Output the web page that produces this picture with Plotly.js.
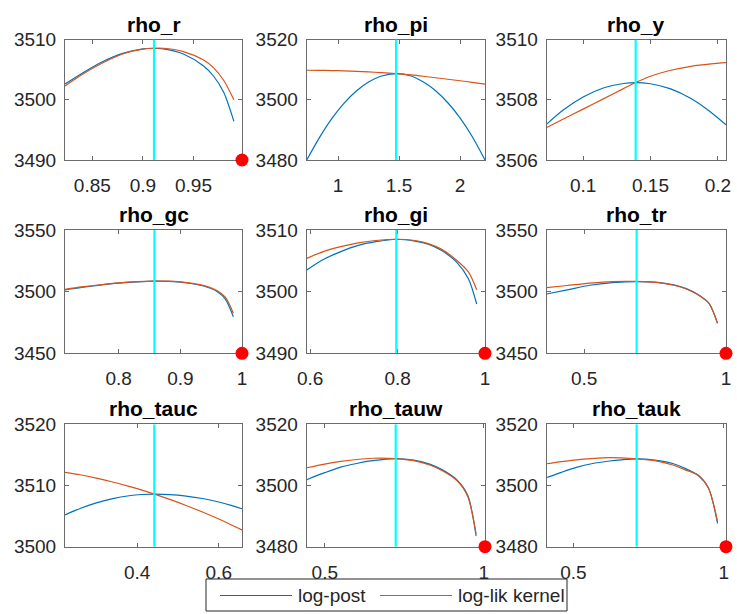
<!DOCTYPE html>
<html>
<head>
<meta charset="utf-8">
<script src="https://cdn.plot.ly/plotly-3.0.1.min.js"></script>
<style>html,body{margin:0;padding:0;background:#fff;}#chart{width:737px;height:614px;}</style>
</head>
<body>
<div id="chart"></div>
<script>
// ---------- data ----------
var panelTitles = ['rho_r','rho_pi','rho_y','rho_gc','rho_gi','rho_tr','rho_tauc','rho_tauw','rho_tauk'];
var seriesNames = ['log-post','log-lik kernel'];

var x_rho_r = [0.823,0.84,0.86,0.88,0.90,0.911,0.92,0.94,0.96,0.97,0.98,0.99];
var post_rho_r = [3502.6,3504.4,3506.3,3507.7,3508.45,3508.55,3508.45,3507.6,3505.6,3503.9,3501.2,3496.4];
var lik_rho_r  = [3502.3,3504.2,3506.1,3507.6,3508.4,3508.55,3508.55,3508.0,3506.6,3505.3,3503.2,3500.0];

var x_rho_pi = [0.743,0.85,0.95,1.05,1.15,1.25,1.35,1.476,1.6,1.7,1.8,1.9,2.0,2.1,2.205];
var post_rho_pi = [3480.0,3487.6,3493.8,3498.9,3502.9,3505.9,3507.8,3508.7,3507.9,3505.9,3503.0,3499.0,3494.0,3487.8,3480.0];
var lik_rho_pi  = [3509.8,3509.75,3509.7,3509.6,3509.45,3509.25,3509.0,3508.7,3508.25,3507.8,3507.3,3506.8,3506.3,3505.8,3505.2];

var x_rho_y = [0.073,0.085,0.1,0.115,0.13,0.139,0.15,0.165,0.18,0.195,0.206];
var post_rho_y = [3507.19,3507.65,3508.09,3508.39,3508.54,3508.57,3508.53,3508.36,3508.04,3507.58,3507.17];
var lik_rho_y  = [3507.08,3507.35,3507.69,3508.03,3508.37,3508.57,3508.78,3508.98,3509.11,3509.19,3509.23];

var x_rho_gc = [0.713,0.74,0.77,0.80,0.83,0.858,0.88,0.90,0.92,0.94,0.96,0.973,0.986];
var post_rho_gc = [3501.4,3503.4,3505.3,3506.9,3508.0,3508.6,3508.4,3507.7,3506.4,3504.2,3500.0,3494.0,3479.7];
var lik_rho_gc  = [3501.9,3503.8,3505.6,3507.1,3508.1,3508.6,3508.5,3507.9,3506.7,3504.7,3500.8,3495.5,3482.4];

var x_rho_gi = [0.592,0.63,0.67,0.71,0.75,0.797,0.84,0.87,0.90,0.935,0.962,0.981];
var post_rho_gi = [3503.5,3505.2,3506.5,3507.5,3508.1,3508.5,3508.2,3507.7,3506.7,3504.8,3502.1,3498.0];
var lik_rho_gi  = [3505.4,3506.5,3507.3,3507.9,3508.3,3508.5,3508.3,3507.8,3506.9,3505.1,3503.2,3500.3];

var x_rho_tr = [0.368,0.44,0.52,0.60,0.685,0.76,0.82,0.86,0.90,0.94,0.97];
var post_rho_tr = [3498.1,3501.4,3505.2,3507.3,3508.2,3507.5,3505.3,3502.5,3497.8,3490.5,3474.3];
var lik_rho_tr  = [3503.2,3505.0,3506.9,3508.2,3508.3,3507.3,3505.0,3502.2,3497.6,3490.5,3474.6];

var x_rho_tauc = [0.223,0.26,0.30,0.34,0.38,0.41,0.442,0.48,0.52,0.56,0.60,0.63,0.657];
var post_rho_tauc = [3505.2,3506.25,3507.17,3507.86,3508.33,3508.53,3508.6,3508.52,3508.28,3507.88,3507.3,3506.76,3506.2];
var lik_rho_tauc  = [3512.15,3511.76,3511.21,3510.57,3509.86,3509.28,3508.6,3507.73,3506.74,3505.67,3504.52,3503.6,3502.74];

var x_rho_tauw = [0.443,0.50,0.55,0.60,0.65,0.723,0.78,0.83,0.87,0.918,0.95,0.976];
var post_rho_tauw = [3501.9,3504.2,3506.0,3507.2,3508.1,3508.8,3508.3,3507.0,3505.1,3501.6,3496.7,3483.5];
var lik_rho_tauw  = [3505.8,3507.0,3507.9,3508.5,3508.9,3508.8,3508.1,3506.7,3504.8,3501.4,3496.3,3484.2];

var x_rho_tauk = [0.411,0.46,0.51,0.56,0.62,0.66,0.71,0.77,0.83,0.871,0.916,0.949,0.979];
var post_rho_tauk = [3502.6,3504.3,3505.9,3507.1,3508.0,3508.4,3508.7,3508.3,3507.2,3505.6,3503.2,3499.1,3487.6];
var lik_rho_tauk  = [3507.1,3507.8,3508.4,3508.8,3509.1,3509.0,3508.7,3508.1,3506.7,3505.1,3503.3,3499.1,3488.2];

var modeValues = [0.911,1.476,0.139,0.858,0.797,0.685,0.442,0.723,0.710];
var xRanges = [[0.823,0.998],[0.743,2.205],[0.073,0.206],[0.713,1.0],[0.592,1.0],[0.368,1.0],[0.223,0.657],[0.443,1.004],[0.411,1.007]];
var yRanges = [[3490,3510],[3480,3520],[3506,3510],[3450,3550],[3490,3510],[3450,3550],[3500,3520],[3480,3520],[3480,3520]];
var boundFlags = [1,0,0,1,1,1,0,1,1];

var xTickVals = [[0.85,0.9,0.95],[1,1.5,2],[0.1,0.15,0.2],[0.8,0.9,1],[0.6,0.8,1],[0.5,1],[0.4,0.6],[0.5,1],[0.5,1]];
var xTickText = [['0.85','0.9','0.95'],['1','1.5','2'],['0.1','0.15','0.2'],['0.8','0.9','1'],['0.6','0.8','1'],['0.5','1'],['0.4','0.6'],['0.5','1'],['0.5','1']];
var yTickVals = [[3490,3500,3510],[3480,3500,3520],[3506,3508,3510],[3450,3500,3550],[3490,3500,3510],[3450,3500,3550],[3500,3510,3520],[3480,3500,3520],[3480,3500,3520]];

var xs = [x_rho_r,x_rho_pi,x_rho_y,x_rho_gc,x_rho_gi,x_rho_tr,x_rho_tauc,x_rho_tauw,x_rho_tauk];
var posts = [post_rho_r,post_rho_pi,post_rho_y,post_rho_gc,post_rho_gi,post_rho_tr,post_rho_tauc,post_rho_tauw,post_rho_tauk];
var liks = [lik_rho_r,lik_rho_pi,lik_rho_y,lik_rho_gc,lik_rho_gi,lik_rho_tr,lik_rho_tauc,lik_rho_tauw,lik_rho_tauk];

// ---------- layout geometry (pixels) ----------
var W = 737, H = 614;
var colPx = [[65,242],[306.7,485],[546.7,726]];
var rowPx = [[39.5,160],[230,353.3],[424.3,546.7]];
var BLUE = '#0072BD', ORANGE = '#D95319';

var FONT = 'Liberation Sans, Arial, Helvetica, sans-serif';
var AXC = '#6b6b6b';
var TXC = '#262626';

function px(v) { return v / W; }
function py(v) { return 1 - v / H; }

var traces = [];
var layout = {
  width: W, height: H,
  margin: {l:0, r:0, t:0, b:0},
  paper_bgcolor: '#ffffff', plot_bgcolor: '#ffffff',
  font: {family: FONT, size: 19, color: TXC},
  showlegend: false,
  annotations: [],
  shapes: []
};

for (var i = 0; i < 9; i++) {
  var r = Math.floor(i / 3), c = i % 3;
  var ax = i === 0 ? '' : String(i + 1);
  var xa = 'x' + ax, ya = 'y' + ax;
  traces.push({x: xs[i], y: posts[i], xaxis: xa, yaxis: ya, type: 'scatter', mode: 'lines',
    name: seriesNames[0], line: {color: BLUE, width: 1.2, shape: 'spline', smoothing: 0.8}});
  traces.push({x: xs[i], y: liks[i], xaxis: xa, yaxis: ya, type: 'scatter', mode: 'lines',
    name: seriesNames[1], line: {color: ORANGE, width: 1.2, shape: 'spline', smoothing: 0.8}});
  traces.push({x: [modeValues[i], modeValues[i]], y: yRanges[i], xaxis: xa, yaxis: ya,
    type: 'scatter', mode: 'lines', hoverinfo: 'skip',
    line: {color: '#00FFFF', width: 2.2}});
  if (boundFlags[i]) {
    traces.push({x: [xRanges[i][1]], y: [yRanges[i][0]], xaxis: xa, yaxis: ya,
      type: 'scatter', mode: 'markers', cliponaxis: false,
      marker: {color: '#FF0000', size: 13, line: {width: 0}}});
  }
  var xd = [px(colPx[c][0]), px(colPx[c][1])];
  var yd = [py(rowPx[r][1]), py(rowPx[r][0])];
  layout['xaxis' + ax] = {
    domain: xd, range: xRanges[i], anchor: ya, tickmode: 'array',
    tickvals: xTickVals[i], ticktext: xTickText[i],
    showline: true, mirror: 'ticks', linecolor: AXC, linewidth: 1,
    ticks: 'inside', ticklen: 4, tickcolor: AXC, tickwidth: 1,
    showgrid: false, zeroline: false, ticklabelstandoff: 8, layer: 'below traces',
    tickfont: {family: FONT, size: 19, color: TXC}
  };
  layout['yaxis' + ax] = {
    domain: yd, range: yRanges[i], anchor: xa, tickmode: 'array',
    tickvals: yTickVals[i], ticktext: yTickVals[i].map(String),
    showline: true, mirror: 'ticks', linecolor: AXC, linewidth: 1,
    ticks: 'inside', ticklen: 4, tickcolor: AXC, tickwidth: 1,
    showgrid: false, zeroline: false, ticklabelstandoff: 4, layer: 'below traces',
    tickfont: {family: FONT, size: 19, color: TXC}
  };
  layout.annotations.push({
    text: '<b>' + panelTitles[i] + '</b>', xref: 'paper', yref: 'paper',
    x: (xd[0] + xd[1]) / 2, y: yd[1], xanchor: 'center', yanchor: 'bottom', yshift: 2,
    showarrow: false, font: {family: FONT, size: 21, color: '#000000'}
  });
}

// ---------- legend (box, samples, labels) ----------
var legY = 595.5;
layout.shapes.push({type: 'rect', xref: 'paper', yref: 'paper',
  x0: px(206), x1: px(567), y0: py(611), y1: py(579),
  line: {color: TXC, width: 1}, fillcolor: '#ffffff', layer: 'above'});
var legItems = [
  {name: seriesNames[0], color: BLUE, l0: 220, l1: 292, tx: 297},
  {name: seriesNames[1], color: ORANGE, l0: 380, l1: 452, tx: 457}
];
legItems.forEach(function (it) {
  layout.shapes.push({type: 'line', xref: 'paper', yref: 'paper',
    x0: px(it.l0), x1: px(it.l1), y0: py(legY), y1: py(legY),
    line: {color: it.color, width: 1.2}, layer: 'above'});
  layout.annotations.push({text: it.name, xref: 'paper', yref: 'paper',
    x: px(it.tx), y: py(legY), xanchor: 'left', yanchor: 'middle', showarrow: false,
    borderpad: 0, font: {family: FONT, size: 19, color: TXC}});
});

Plotly.newPlot('chart', traces, layout, {staticPlot: true, displayModeBar: false});
</script>
</body>
</html>
